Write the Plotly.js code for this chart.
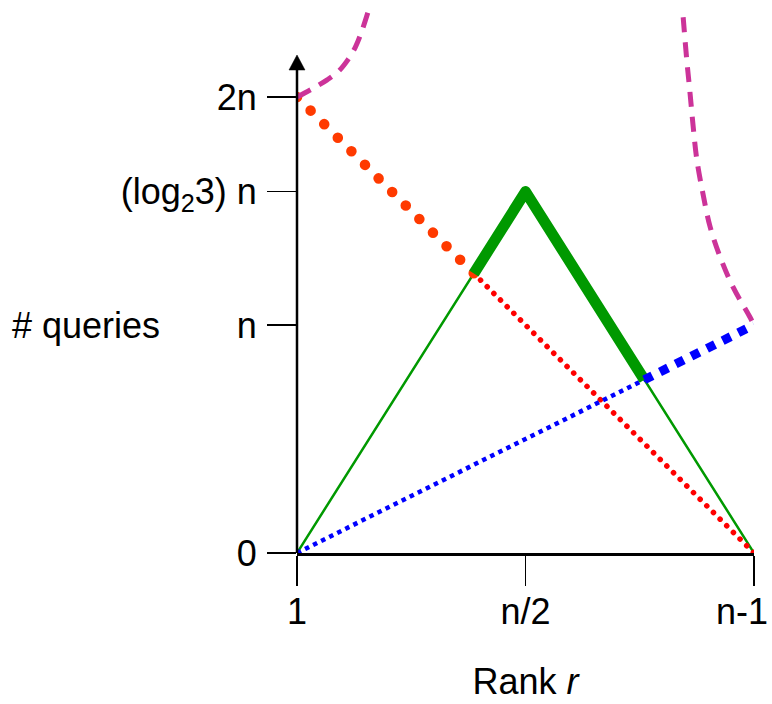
<!DOCTYPE html>
<html>
<head>
<meta charset="utf-8">
<script src="https://cdn.plot.ly/plotly-3.0.1.min.js"></script>
<style>
html,body{margin:0;padding:0;background:#fff;}
#chart{width:772px;height:704px;}
</style>
</head>
<body>
<div id="chart"></div>
<script>
// Normalised units: x = rank position (0 -> "1", 1 -> "n-1"), y = queries / n
var LOG23 = Math.log(3) / Math.LN2;

var xTickVals = [0, 0.5, 1];
var xTickText = ["1", "n/2", "n-1"];
var yTickVals = [0, 1, LOG23, 2];
var yTickText = ["0", "n", "(log<sub>2</sub>3) n", "2n"];

// green triangle
var greenX = [0, 0.5, 1];
var greenY = [0, LOG23, 0];
// thick part of green (between the red and blue crossings)
var greenThickX = [0.387, 0.5, 0.760];
var greenThickY = [1.226, LOG23, 0.760];

// red line 2n -> 0
var redThickX = [0, 0.387];
var redThickY = [2, 1.226];
var redThinX = [0.387, 1];
var redThinY = [1.226, 0];

// blue line 0 -> n
var blueThinX = [0, 0.760];
var blueThinY = [0, 0.760];
var blueThickX = [0.760, 1];
var blueThickY = [0.760, 1];

// magenta dashed curves
var magLeftX = [0, 0.035, 0.066, 0.092, 0.112, 0.128, 0.142, 0.155];
var magLeftY = [2.0, 2.038, 2.075, 2.115, 2.165, 2.22, 2.29, 2.37];
var magRightX = [0.845, 0.853, 0.860, 0.867, 0.875, 0.888, 0.904, 0.926, 0.954, 0.991, 1.0];
var magRightY = [2.35, 2.16, 2.018, 1.868, 1.724, 1.579, 1.43, 1.298, 1.167, 1.035, 1.0];

var FONT = "Liberation Sans, Arial, Helvetica, sans-serif";
var FS = 36;

var traces = [
  {x: greenX, y: greenY, mode: "lines", line: {color: "#009900", width: 2.5}},
  {x: redThinX, y: redThinY, mode: "lines", line: {color: "#ff0000", width: 5.5, dash: "0.1px,9.3px"}},
  {x: blueThinX, y: blueThinY, mode: "lines", line: {color: "#0000ff", width: 4.5, dash: "4.5px,4.5px"}},
  {x: redThickX, y: redThickY, mode: "lines", line: {color: "#ff3a00", width: 10.5, dash: "0.1px,19.1px"}},
  {x: greenThickX, y: greenThickY, mode: "lines", line: {color: "#009900", width: 11}},
  {x: blueThickX, y: blueThickY, mode: "lines", line: {color: "#0000ff", width: 9, dash: "9px,8.5px"}},
  {x: magLeftX, y: magLeftY, mode: "lines", line: {color: "#cc3399", width: 5, dash: "15px,10px", shape: "spline"}},
  {x: magRightX, y: magRightY, mode: "lines", line: {color: "#cc3399", width: 5, dash: "15px,10px", shape: "spline"}}
];
traces.forEach(function(t){ t.hoverinfo = "skip"; t.showlegend = false; });

// plot area: left 297, right 754, top 0, bottom 553 (px)
var Y_TOP = 553 / 228;
var AX_BASE = (553 - 70) / 553;   // paper fraction where the arrow head starts
var AX_TIP = (553 - 55) / 553;    // paper fraction of the arrow tip
var HW = 8 / 457;                 // half width of arrow head (paper x)

// the last x label sits flush with the right edge, so it is placed as an annotation
var lastIdx = xTickText.length - 1;
var axisTickText = xTickText.map(function(t, i){ return i === lastIdx ? "" : t; });

var layout = {
  width: 772, height: 704,
  margin: {l: 297, r: 18, t: 0, b: 151, pad: 0},
  paper_bgcolor: "#ffffff", plot_bgcolor: "#ffffff",
  font: {family: FONT, size: FS, color: "#000"},
  showlegend: false,
  xaxis: {
    range: [0, 1], showgrid: false, zeroline: false,
    showline: true, linecolor: "#000", linewidth: 2.5,
    ticks: "outside", ticklen: 30, tickwidth: 1.6, tickcolor: "#000",
    tickmode: "array", tickvals: xTickVals, ticktext: axisTickText,
    tickfont: {family: FONT, size: FS},
    ticklabelstandoff: -5,
    title: {text: "Rank <i>r</i>", font: {family: FONT, size: FS}, standoff: 38},
    automargin: false
  },
  yaxis: {
    range: [0, Y_TOP], showgrid: false, zeroline: false,
    showline: false,
    ticks: "outside", ticklen: 29, tickwidth: 1.6, tickcolor: "#000",
    tickmode: "array", tickvals: yTickVals, ticktext: yTickText,
    tickfont: {family: FONT, size: FS},
    ticklabelstandoff: 3,
    ticklabeloverflow: "allow",
    automargin: false
  },
  shapes: [
    {type: "line", xref: "paper", yref: "paper", x0: 0, x1: 0, y0: 0, y1: AX_BASE,
     line: {color: "#000", width: 2.5}},
    {type: "path", xref: "paper", yref: "paper",
     path: "M" + (-HW) + "," + AX_BASE + " L" + HW + "," + AX_BASE + " L0," + AX_TIP + " Z",
     fillcolor: "#000", line: {color: "#000", width: 0.5}}
  ],
  annotations: [
    {xref: "paper", yref: "y", x: -0.627, y: 1, xanchor: "left", yanchor: "middle",
     text: "# queries", showarrow: false, font: {family: FONT, size: FS}},
    {xref: "paper", yref: "paper", x: (770 - 297) / 457, y: (553 - 611) / 553,
     xanchor: "right", yanchor: "middle",
     text: xTickText[lastIdx], showarrow: false, font: {family: FONT, size: FS}}
  ]
};

Plotly.newPlot("chart", traces, layout, {staticPlot: true, displayModeBar: false}).then(function(gd){
  var tr = gd.querySelectorAll(".scatterlayer .trace");
  var caps = ["butt", "round", "butt", "round", "butt", "butt", "butt", "butt"];
  tr.forEach(function(g, i){
    var p = g.querySelector("path.js-line");
    if (p) {
      p.style.strokeLinecap = caps[i];
      p.style.strokeLinejoin = "round";
    }
  });
});
</script>
</body>
</html>
